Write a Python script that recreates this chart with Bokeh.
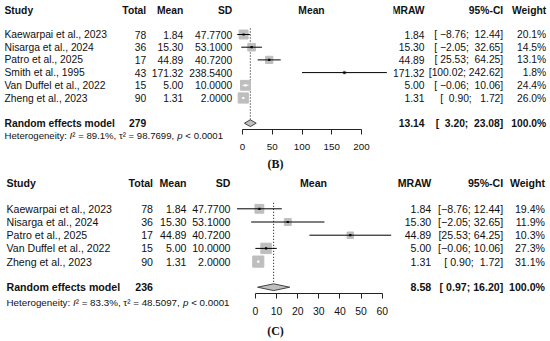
import math
from bokeh.plotting import figure
from bokeh.layouts import row, column
from bokeh.models import Range1d, FixedTicker
from bokeh.core.properties import value
from bokeh.embed import file_html
from bokeh.resources import INLINE

# ---------------- data: panel (B) ----------------
studies_b = ["Kaewarpai et al., 2023", "Nisarga et al., 2024", "Patro et al., 2025",
             "Smith et al., 1995", "Van Duffel et al., 2022", "Zheng et al., 2023"]
total_b = [78, 36, 17, 43, 15, 90]
mean_b = [1.84, 15.30, 44.89, 171.32, 5.00, 1.31]
sd_b = [47.77, 53.10, 40.72, 238.54, 10.00, 2.00]
lower_b = [-8.76, -2.05, 25.53, 100.02, -0.06, 0.90]
upper_b = [12.44, 32.65, 64.25, 242.62, 10.06, 1.72]
weight_b = [20.1, 14.5, 13.1, 1.8, 24.4, 26.0]
pooled_b = [13.14, 3.20, 23.08]          # estimate, lower, upper
pooled_n_b = 279
het_i2_b = "89.1%"
het_tau2_b = "98.7699"
het_p_b = "< 0.0001"
ticks_b = [0, 50, 100, 150, 200]

# ---------------- data: panel (C) ----------------
studies_c = ["Kaewarpai et al., 2023", "Nisarga et al., 2024", "Patro et al., 2025",
             "Van Duffel et al., 2022", "Zheng et al., 2023"]
total_c = [78, 36, 17, 15, 90]
mean_c = [1.84, 15.30, 44.89, 5.00, 1.31]
sd_c = [47.77, 53.10, 40.72, 10.00, 2.00]
lower_c = [-8.76, -2.05, 25.53, -0.06, 0.90]
upper_c = [12.44, 32.65, 64.25, 10.06, 1.72]
weight_c = [19.4, 11.9, 10.3, 27.3, 31.1]
pooled_c = [8.58, 0.97, 16.20]
pooled_n_c = 236
het_i2_c = "83.3%"
het_tau2_c = "48.5097"
het_p_c = "< 0.0001"
ticks_c = [0, 10, 20, 30, 40, 50, 60]

# ---------------- styling / layout ----------------
SANS = "Liberation Sans"
SERIF = "Liberation Serif"
TXT = "#111111"
SQ_FILL = "#BEBEBE"
NB = "\u00a0"

W_LEFT, W_MID = 236, 157
W_RIGHT = 550 - W_LEFT - W_MID
X_LEFT0 = 0.0
X_MID0 = X_LEFT0 + W_LEFT
X_RIGHT0 = X_MID0 + W_MID
X_END = X_RIGHT0 + W_RIGHT
H_B = 172
H_C = 341 - H_B

# Arial / Liberation Sans advance widths (1/1000 em) for the heterogeneity line
AW = {' ': 278, NB: 278, '%': 889, ',': 278, '.': 278, ':': 278, '<': 584, '=': 584,
      'H': 722, 'I': 278, 'e': 556, 't': 278, 'r': 333, 'o': 556, 'g': 556,
      'n': 556, 'i': 222, 'y': 500, 'p': 556, '\u00b2': 333, '\u03c4': 440}


def tw(s, fs):
    return sum(AW.get(c, 556) for c in s) / 1000.0 * fs


def fnum(v, w):
    return f"{v:{w}.2f}".replace("-", "\u2212").replace(" ", NB)


def fci(lo, hi, w):
    return f"[{fnum(lo, w)}; {fnum(hi, w)}]"


def base_fig(w, h, xr, yr, mbb=0, axis=False):
    p = figure(width=w, height=h, x_range=xr, y_range=yr,
               output_backend="svg", toolbar_location=None,
               x_axis_location="below" if axis else None, y_axis_location=None,
               min_border_left=0, min_border_right=0, min_border_top=0,
               min_border_bottom=mbb, outline_line_color=None,
               background_fill_color="white", border_fill_color="white")
    try:
        p.frame_align = False
    except Exception:
        pass
    p.grid.visible = False
    return p


def make_panel(d, g, h):
    top = g["top"]
    rh = g["row_h"]
    n = len(d["study"])
    ys = [g["first_row"] + i * g["row_step"] for i in range(n)]
    fs = g["fs"]
    row_bottom = top + rh

    def txt(p, xs, yv, texts, align, bold=False, size=None, style=None, font=SANS):
        p.text(x=xs, y=yv, text=texts, text_align=align, text_baseline="middle",
               text_font=value(font), text_font_size=f"{size or fs}px",
               text_font_style=style or ("bold" if bold else "normal"),
               text_color=TXT)

    # ---------- left text block ----------
    L = base_fig(W_LEFT, rh, Range1d(X_LEFT0, X_MID0), Range1d(row_bottom, top))
    hy = g["header_y"]
    txt(L, [g["c_study"]], [hy], ["Study"], "left", bold=True)
    txt(L, [g["c_total"]], [hy], ["Total"], "right", bold=True)
    txt(L, [g["c_mean"]], [hy], ["Mean"], "right", bold=True)
    txt(L, [g["c_sd"]], [hy], ["SD"], "right", bold=True)
    txt(L, [g["c_study"]] * n, ys, d["study"], "left")
    txt(L, [g["c_total"]] * n, ys, [str(v) for v in d["total"]], "right")
    txt(L, [g["c_mean"]] * n, ys, [f"{v:.2f}" for v in d["mean"]], "right")
    txt(L, [g["c_sd"]] * n, ys, [f"{v:.4f}" for v in d["sd"]], "right")
    py = g["pooled_y"]
    txt(L, [g["c_study"]], [py], ["Random effects model"], "left", bold=True)
    txt(L, [g["c_total"]], [py], [str(d["pooled_n"])], "right", bold=True)
    # heterogeneity line (italic I and p)
    hf = g["fs_het"]
    pieces = [("Heterogeneity:" + NB, "normal"), ("I", "italic"),
              (f"\u00b2{NB}={NB}{d['i2']},{NB}\u03c4\u00b2{NB}={NB}{d['tau2']},{NB}", "normal"),
              ("p", "italic"), (f"{NB}{d['p'].replace(' ', NB)}", "normal")]
    xh = g["c_study"]
    for s, st in pieces:
        txt(L, [xh], [g["het_y"]], [s], "left", size=hf, style=st)
        xh += tw(s, hf)

    # ---------- forest plot ----------
    frame_h = round(g["axis_y"] - top)
    mid_bottom_ref = top + frame_h
    ppu = g["ppu"]
    x0d = (X_MID0 - g["ax0"]) / ppu
    x1d = (X_RIGHT0 - g["ax0"]) / ppu
    M = base_fig(W_MID, rh, Range1d(x0d, x1d), Range1d(mid_bottom_ref, top),
                 mbb=rh - frame_h, axis=True)
    sizes = [g["sq_k"] * math.sqrt(w) for w in d["weight"]]
    cols = ["white" if (hi - lo) * ppu < s else "black"
            for lo, hi, s in zip(d["lower"], d["upper"], sizes)]
    txt(M, [(g["c_forest"] - g["ax0"]) / ppu], [hy], ["Mean"], "center", bold=True)
    est, plo, phi = d["pooled"]
    dh = 3.4
    M.segment(x0=[est], y0=[ys[0] - 6], x1=[est], y1=[py - dh],
              line_color="black", line_width=1, line_dash="1 2")
    M.scatter(x=d["mean"], y=ys, size=sizes, marker="square",
              fill_color=SQ_FILL, line_color=SQ_FILL)
    M.segment(x0=d["lower"], y0=ys, x1=d["upper"], y1=ys, line_color=cols, line_width=1)
    M.scatter(x=d["mean"], y=ys, size=2.2, marker="square", fill_color=cols, line_color=None)
    M.patch(x=[plo, est, phi, est], y=[py, py - dh, py, py + dh],
            fill_color=SQ_FILL, line_color="#444444", line_width=1)
    ax = M.xaxis[0]
    ax.ticker = FixedTicker(ticks=d["ticks"])
    ax.bounds = (d["ticks"][0], d["ticks"][-1])
    ax.major_tick_in = 0
    ax.major_tick_out = 5
    ax.minor_tick_line_color = None
    ax.axis_line_color = "#222222"
    ax.major_tick_line_color = "#222222"
    ax.major_label_text_font = SANS
    ax.major_label_text_font_size = f"{g['fs_tick']}px"
    ax.major_label_text_color = TXT
    ax.major_label_standoff = g["tick_standoff"]

    # ---------- right text block ----------
    R = base_fig(W_RIGHT, rh, Range1d(X_RIGHT0, X_END), Range1d(row_bottom, top))
    txt(R, [g["c_mraw"]], [hy], ["MRAW"], "right", bold=True)
    txt(R, [g["c_ci"]], [hy], ["95%-CI"], "right", bold=True)
    txt(R, [g["c_w"]], [hy], ["Weight"], "right", bold=True)
    txt(R, [g["c_mraw"]] * n, ys, [f"{v:.2f}" for v in d["mean"]], "right")
    txt(R, [g["c_ci"]] * n, ys, [fci(lo, hi, g["ciw"]) for lo, hi in zip(d["lower"], d["upper"])], "right")
    txt(R, [g["c_w"]] * n, ys, [f"{w:.1f}%" for w in d["weight"]], "right")
    txt(R, [g["c_mraw"]], [py], [f"{est:.2f}"], "right", bold=True)
    txt(R, [g["c_ci"]], [py], [fci(plo, phi, g["ciw"])], "right", bold=True)
    txt(R, [g["c_w"]], [py], ["100.0%"], "right", bold=True)

    # ---------- panel caption ----------
    C = base_fig(550, h - rh, Range1d(0, 550), Range1d(top + h, row_bottom))
    txt(C, [g["cap_x"]], [g["caption_y"]], [g["caption"]], "center", bold=True,
        size=12, font=SERIF)
    return column(row(L, M, R), C)


data_b = dict(study=studies_b, total=total_b, mean=mean_b, sd=sd_b, lower=lower_b,
              upper=upper_b, weight=weight_b, pooled=pooled_b, pooled_n=pooled_n_b,
              i2=het_i2_b, tau2=het_tau2_b, p=het_p_b, ticks=ticks_b)
data_c = dict(study=studies_c, total=total_c, mean=mean_c, sd=sd_c, lower=lower_c,
              upper=upper_c, weight=weight_c, pooled=pooled_c, pooled_n=pooled_n_c,
              i2=het_i2_c, tau2=het_tau2_c, p=het_p_c, ticks=ticks_c)

geo_b = dict(top=0.0, row_h=155, header_y=10.0, first_row=34.0, row_step=12.7,
             pooled_y=122.7, het_y=135.0, axis_y=129.0,
             caption="(B)", cap_x=275.0, caption_y=163.0,
             c_study=4.0, c_total=145.7, c_mean=182.7, c_sd=231.7, c_forest=311.0,
             c_mraw=424.0, c_ci=502.7, c_w=545.7, ax0=242.0, ppu=0.595,
             fs=10.3, fs_het=9.6, fs_tick=9.8, tick_standoff=9, sq_k=2.0, ciw=6)
geo_c = dict(top=float(H_B), row_h=321 - H_B, header_y=182.7, first_row=208.3,
             row_step=13.2, pooled_y=286.7, het_y=301.7, axis_y=293.3,
             caption="(C)", cap_x=275.0, caption_y=330.0,
             c_study=6.0, c_total=152.5, c_mean=186.0, c_sd=230.0, c_forest=313.0,
             c_mraw=430.7, c_ci=502.7, c_w=544.5, ax0=255.0, ppu=2.112,
             fs=10.6, fs_het=9.8, fs_tick=10.4, tick_standoff=8, sq_k=2.0, ciw=5)

layout = column(make_panel(data_b, geo_b, H_B), make_panel(data_c, geo_c, H_C))

with open("out.html", "w") as f:
    f.write(file_html(layout, INLINE))
